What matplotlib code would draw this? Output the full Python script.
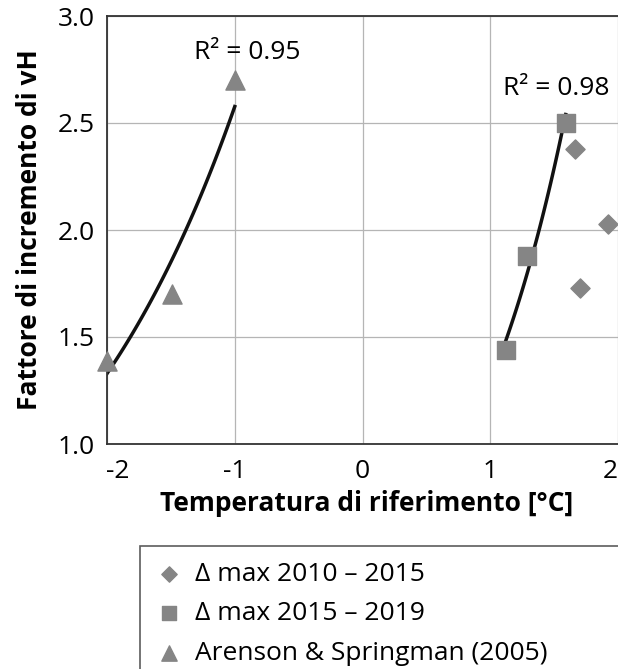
import numpy as np
import matplotlib
matplotlib.use("Agg")
import matplotlib.pyplot as plt
import matplotlib.transforms as mtransforms

plt.rcParams['font.family'] = ['Open Sans', 'DejaVu Sans']

# data
diam_x = [1.66, 1.70, 1.92]
diam_y = [2.38, 1.73, 2.03]
sq_x = [1.12, 1.29, 1.59]
sq_y = [1.44, 1.88, 2.50]
tri_x = [-2.00, -1.49, -1.00]
tri_y = [1.39, 1.70, 2.70]
r2_left = 0.95
r2_right = 0.98
xticks = [-2, -1, 0, 1, 2]
yticks = [1.0, 1.5, 2.0, 2.5, 3.0]

grey = '#858585'
fs = 19

fig = plt.figure(figsize=(6.18, 6.69), dpi=100)
ax = fig.add_axes([107/618, 1-444/669, 520/618, (444-16)/669])


def expfit(x, y):
    # exponential trendline like in Excel
    b, loga = np.polyfit(x, np.log(y), 1)
    xs = np.linspace(min(x), max(x), 50)
    return xs, np.exp(loga) * np.exp(b * xs)


xs, ys = expfit(tri_x, tri_y)
ax.plot(xs, ys, color='#111111', lw=2.5, zorder=2)
xs, ys = expfit(sq_x, sq_y)
ax.plot(xs, ys, color='#111111', lw=2.5, zorder=2)

ax.scatter(diam_x, diam_y, marker='D', s=95, color=grey, zorder=3,
           label='Δ max 2010 – 2015', clip_on=False)
ax.scatter(sq_x, sq_y, marker='s', s=150, color=grey, zorder=3,
           label='Δ max 2015 – 2019', clip_on=False)
ax.scatter(tri_x, tri_y, marker='^', s=190, color=grey, zorder=3,
           label='Arenson & Springman (2005)', clip_on=False)

ax.text(-0.9, 2.83, 'R² = %.2f' % r2_left, ha='center', va='center', fontsize=fs)
ax.text(1.52, 2.66, 'R² = %.2f' % r2_right, ha='center', va='center', fontsize=fs)

ax.set_xlim(-2, 2.07)
ax.set_ylim(1.0, 3.0)
ax.set_xticks(xticks)
ax.set_xticklabels(['%d' % t for t in xticks])
ax.set_yticks(yticks)
ax.set_yticklabels(['%.1f' % t for t in yticks])
ax.tick_params(length=0, labelsize=fs)
ax.tick_params(axis='x', pad=11)
ax.tick_params(axis='y', pad=9)
ax.grid(color='#b5b5b5', lw=0.9)
ax.set_axisbelow(True)
for s in ['left', 'bottom', 'top']:
    ax.spines[s].set_color('#333333')
    ax.spines[s].set_linewidth(1.3)
ax.spines['right'].set_visible(False)

# outer x labels sit a little inside, as in the original
xl = ax.get_xticklabels()
xl[0].set_transform(xl[0].get_transform() + mtransforms.ScaledTranslation(0.11, 0, fig.dpi_scale_trans))
xl[-1].set_transform(xl[-1].get_transform() + mtransforms.ScaledTranslation(-0.08, 0, fig.dpi_scale_trans))

ax.set_xlabel('Temperatura di riferimento [°C]', fontsize=fs, fontweight='bold', labelpad=4)
ax.set_ylabel('Fattore di incremento di vH', fontsize=fs, fontweight='bold', labelpad=10)

leg = fig.legend(loc='upper left', bbox_to_anchor=(140/618, 0, 600/618, 1-546/669),
                 mode='expand', fontsize=fs, frameon=True, fancybox=False,
                 handletextpad=0.5, labelspacing=0.55, borderpad=0.6, handlelength=1.0,
                 markerscale=0.8, borderaxespad=0)
leg.get_frame().set_edgecolor('#333333')
leg.get_frame().set_linewidth(1.2)

fig.savefig('out.png', dpi=100)
